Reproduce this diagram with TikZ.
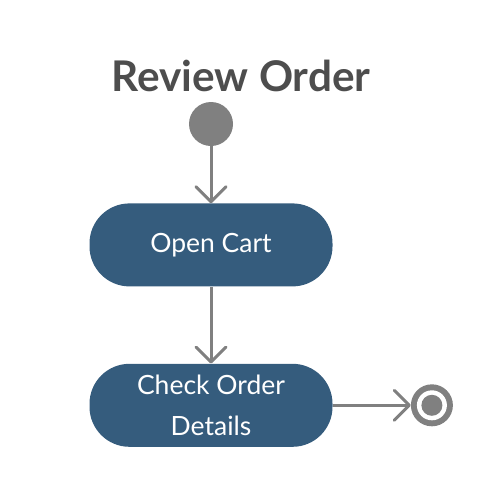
\documentclass[tikz,border=0pt]{standalone}
\usepackage{fontspec}
\setmainfont{Lato}
\usetikzlibrary{positioning,arrows.meta}
\definecolor{actblue}{HTML}{355C7D}
\definecolor{flowgray}{HTML}{808080}
\definecolor{titlegray}{HTML}{4D4D4D}

\begin{document}
\begin{tikzpicture}[x=1pt,y=-1pt,
  every node/.style={inner sep=0pt},
  title/.style={text=titlegray,font=\bfseries\fontsize{42.3}{48}\selectfont},
  initial/.style={circle,fill=flowgray,minimum size=44pt},
  final/.style={circle,fill=flowgray,minimum size=42pt},
  action/.style={fill=actblue,text=white,rounded corners=40pt,
    minimum width=243pt,minimum height=83pt,align=center,
    font=\fontsize{26.5}{41}\selectfont},
  flow/.style={draw=flowgray,line width=3pt,
    -{Straight Barb[length=15pt,width=30pt,round]}}]
\useasboundingbox (0,0) rectangle (486,480);
\node[title] (title) at (241,76) {Review Order};
\node[initial] (start) at (211,124) {};
\node[action, below=57pt of start] (cart) {Open Cart};
\node[action, below=77pt of cart] (check) {Check Order\\Details};
\node[final, right=78pt of check] (stop) {};
\fill[white] (stop) circle (15pt);
\fill[flowgray] (stop) circle (10.5pt);

\draw[flow] (start) -- (cart);
\draw[flow] (cart) -- (check);
\draw[flow] (check) -- (stop);
\end{tikzpicture}
\end{document}
